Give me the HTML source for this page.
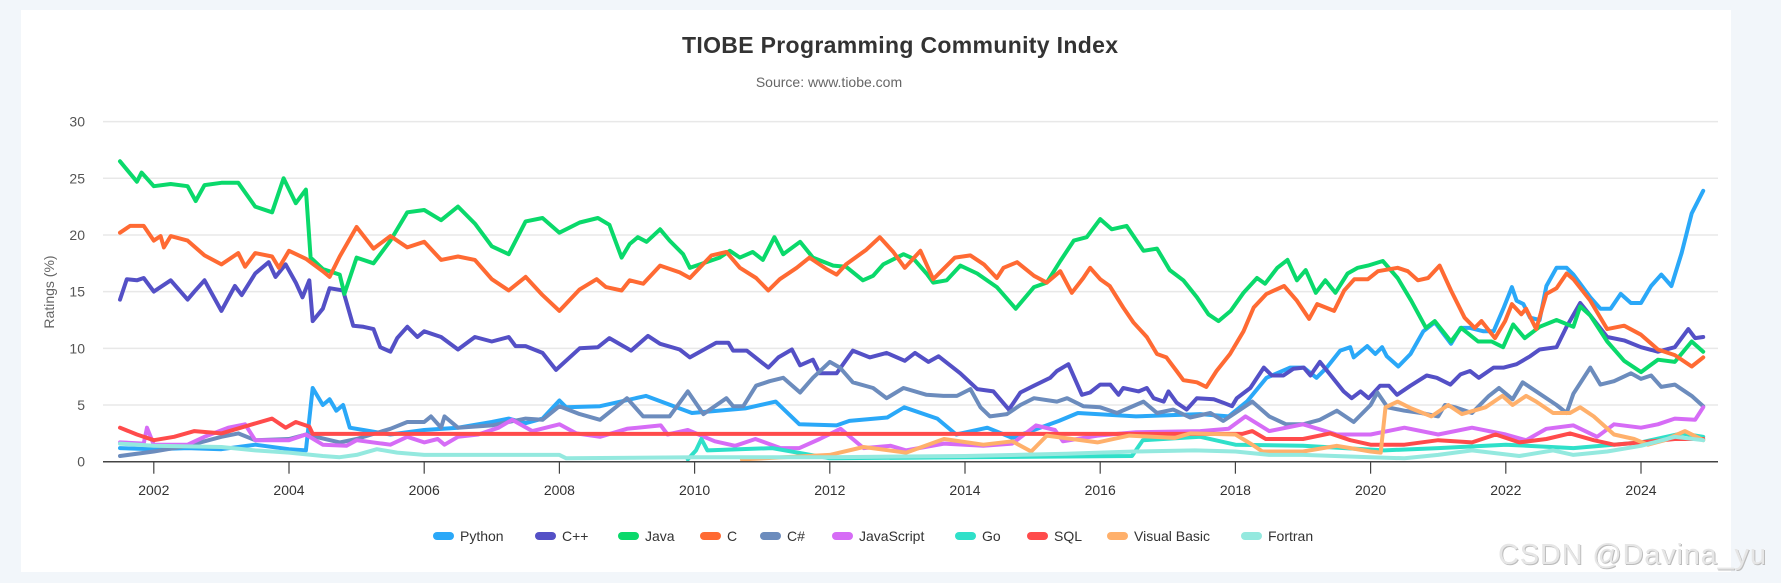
<!DOCTYPE html>
<html><head><meta charset="utf-8"><style>
html,body{margin:0;padding:0;background:#f2f6fa;}
svg{display:block;font-family:"Liberation Sans",sans-serif;}
</style></head><body>
<svg id="chart" width="1781" height="583" viewBox="0 0 1781 583">
<rect x="0" y="0" width="1781" height="583" fill="#f2f6fa"/>
<rect x="21" y="10" width="1710" height="562" fill="#ffffff"/>
<text x="900" y="53" text-anchor="middle" font-size="23" font-weight="bold" fill="#333" textLength="436">TIOBE Programming Community Index</text>
<text x="829" y="87" text-anchor="middle" font-size="14" fill="#666">Source: www.tiobe.com</text>
<text transform="translate(54,292) rotate(-90)" text-anchor="middle" font-size="14" fill="#666">Ratings (%)</text>
<g id="grid"></g><g id="series"></g><g id="axis"></g><g id="legend"></g>
<text x="1499" y="565" font-size="29" fill="#bdbdbd" textLength="268">CSDN @Davina_yu</text>
<text x="1498" y="564" font-size="29" fill="#e6e6e6" textLength="268">CSDN @Davina_yu</text>
</svg>
<script>
const yTicks=[0,5,10,15,20,25,30];
const xTicks=[2002,2004,2006,2008,2010,2012,2014,2016,2018,2020,2022,2024];
const seriesNames=["Python","C++","Java","C","C#","JavaScript","Go","SQL","Visual Basic","Fortran"];
const seriesColors=["#2aa8f8","#5450c6","#0ad96b","#ff6a33","#6c8cbd","#d66cf6","#2fe0c9","#ff4b4b","#ffb06b","#94e9df"];
const pythonData=[[2001.5,1.2],[2002,1.1],[2002.5,1.2],[2003,1.1],[2003.5,1.5],[2004,1.1],[2004.25,1.0],[2004.35,6.5],[2004.5,5.0],[2004.6,5.5],[2004.7,4.5],[2004.8,5.0],[2004.9,3.0],[2005.1,2.8],[2005.5,2.4],[2006,2.8],[2006.5,3.0],[2007,3.5],[2007.25,3.8],[2007.5,3.4],[2007.75,3.8],[2008,5.4],[2008.1,4.8],[2008.6,4.9],[2009.28,5.8],[2009.96,4.3],[2010.75,4.7],[2011.2,5.3],[2011.55,3.3],[2012.1,3.2],[2012.29,3.6],[2012.85,3.9],[2013.1,4.8],[2013.59,3.8],[2013.87,2.4],[2014.33,3.0],[2014.7,2.1],[2015.39,3.6],[2015.67,4.3],[2016.53,4.0],[2017.48,4.2],[2017.9,4.0],[2018.17,5.3],[2018.46,7.4],[2018.81,8.3],[2019.01,8.3],[2019.2,7.4],[2019.35,8.3],[2019.55,9.8],[2019.7,10.1],[2019.75,9.2],[2019.95,10.2],[2020.07,9.5],[2020.17,10.1],[2020.24,9.3],[2020.41,8.4],[2020.59,9.5],[2020.78,11.5],[2020.95,12.3],[2021.19,10.4],[2021.33,11.8],[2021.47,11.8],[2021.67,11.5],[2021.82,11.5],[2021.97,13.6],[2022.09,15.4],[2022.16,14.2],[2022.26,13.9],[2022.36,12.7],[2022.5,12.5],[2022.6,15.5],[2022.75,17.1],[2022.9,17.1],[2023,16.5],[2023.25,14.5],[2023.4,13.5],[2023.55,13.5],[2023.7,14.8],[2023.85,14.0],[2024,14.0],[2024.15,15.5],[2024.3,16.5],[2024.45,15.5],[2024.6,18.4],[2024.75,21.9],[2024.92,23.9]];
const cppData=[[2001.5,14.3],[2001.6,16.1],[2001.75,16.0],[2001.85,16.2],[2002,15.0],[2002.25,16.0],[2002.5,14.3],[2002.6,15.0],[2002.75,16.0],[2003,13.3],[2003.2,15.5],[2003.3,14.7],[2003.5,16.6],[2003.7,17.6],[2003.8,16.3],[2003.95,17.4],[2004.1,15.8],[2004.2,14.5],[2004.3,16.0],[2004.35,12.4],[2004.5,13.5],[2004.6,15.3],[2004.8,15.1],[2004.95,12.0],[2005.1,11.9],[2005.25,11.7],[2005.35,10.1],[2005.5,9.7],[2005.6,10.9],[2005.75,11.9],[2005.9,11.0],[2006,11.5],[2006.25,11.0],[2006.5,9.9],[2006.75,11.0],[2007,10.6],[2007.25,11.0],[2007.35,10.2],[2007.5,10.2],[2007.75,9.6],[2007.95,8.1],[2008.3,10.0],[2008.57,10.1],[2008.74,10.9],[2009.06,9.8],[2009.31,11.1],[2009.49,10.4],[2009.78,9.9],[2009.93,9.2],[2010.32,10.5],[2010.5,10.5],[2010.57,9.8],[2010.77,9.8],[2011.09,8.3],[2011.24,9.2],[2011.44,9.9],[2011.56,8.5],[2011.75,9.0],[2011.85,7.8],[2012.1,7.8],[2012.34,9.8],[2012.59,9.2],[2012.84,9.6],[2013.11,8.9],[2013.26,9.6],[2013.46,8.8],[2013.61,9.3],[2013.93,7.8],[2014.18,6.4],[2014.42,6.2],[2014.65,4.6],[2014.82,6.1],[2015.02,6.7],[2015.26,7.4],[2015.36,8.0],[2015.53,8.6],[2015.73,5.9],[2015.85,6.1],[2016,6.8],[2016.15,6.8],[2016.27,5.9],[2016.34,6.5],[2016.57,6.2],[2016.69,6.5],[2016.79,5.6],[2016.94,5.3],[2017.01,6.2],[2017.13,5.2],[2017.28,4.6],[2017.43,5.6],[2017.68,5.5],[2017.82,5.2],[2017.95,4.9],[2018.02,5.6],[2018.22,6.5],[2018.42,8.3],[2018.54,7.6],[2018.71,7.6],[2018.86,8.2],[2019.01,8.3],[2019.11,7.6],[2019.25,8.8],[2019.4,7.7],[2019.6,6.2],[2019.72,5.6],[2019.85,6.2],[2019.97,5.6],[2020.14,6.7],[2020.27,6.7],[2020.39,5.9],[2020.59,6.7],[2020.83,7.6],[2020.98,7.4],[2021.18,6.8],[2021.33,7.7],[2021.47,8.0],[2021.6,7.4],[2021.82,8.3],[2021.97,8.3],[2022.16,8.6],[2022.36,9.3],[2022.5,9.9],[2022.75,10.1],[2022.9,11.9],[2023.1,14.0],[2023.25,12.9],[2023.5,11.0],[2023.75,10.7],[2024,10.1],[2024.25,9.7],[2024.5,10.1],[2024.7,11.7],[2024.8,10.9],[2024.92,11.0]];
const javaData=[[2001.5,26.5],[2001.75,24.7],[2001.82,25.5],[2002,24.3],[2002.25,24.5],[2002.5,24.3],[2002.62,23.0],[2002.75,24.4],[2003,24.6],[2003.25,24.6],[2003.5,22.5],[2003.75,22.0],[2003.92,25.0],[2004.1,22.8],[2004.25,24.0],[2004.32,18.0],[2004.5,17.0],[2004.75,16.5],[2004.82,14.8],[2005,18.0],[2005.25,17.5],[2005.5,19.5],[2005.75,22.0],[2006,22.2],[2006.25,21.3],[2006.5,22.5],[2006.75,21.0],[2007,19.0],[2007.25,18.3],[2007.5,21.2],[2007.75,21.5],[2008,20.2],[2008.3,21.1],[2008.57,21.5],[2008.74,20.9],[2008.92,18.0],[2009.04,19.2],[2009.16,19.8],[2009.29,19.4],[2009.49,20.5],[2009.63,19.5],[2009.83,18.3],[2009.93,17.1],[2010.08,17.4],[2010.37,18.0],[2010.52,18.6],[2010.67,18.0],[2010.86,18.5],[2011.01,17.8],[2011.18,19.8],[2011.31,18.3],[2011.56,19.4],[2011.75,18.0],[2012.05,17.3],[2012.24,17.2],[2012.49,16.0],[2012.64,16.4],[2012.79,17.4],[2013.09,18.3],[2013.24,17.9],[2013.43,16.6],[2013.53,15.8],[2013.73,16.0],[2013.93,17.3],[2014.18,16.6],[2014.47,15.4],[2014.75,13.5],[2015.02,15.4],[2015.21,15.8],[2015.41,17.7],[2015.61,19.5],[2015.8,19.8],[2016,21.4],[2016.17,20.5],[2016.39,20.8],[2016.64,18.6],[2016.84,18.8],[2017.03,16.9],[2017.23,16.0],[2017.43,14.5],[2017.6,13.0],[2017.75,12.4],[2017.93,13.3],[2018.12,14.9],[2018.32,16.2],[2018.44,15.7],[2018.62,17.1],[2018.77,17.8],[2018.91,16.0],[2019.04,16.9],[2019.19,14.9],[2019.33,16.0],[2019.48,14.9],[2019.66,16.6],[2019.81,17.1],[2019.96,17.3],[2020.18,17.7],[2020.4,16.2],[2020.6,14.2],[2020.82,11.8],[2020.95,12.4],[2021.19,10.6],[2021.34,11.8],[2021.59,10.6],[2021.79,10.6],[2021.96,10.1],[2022.11,12.1],[2022.28,10.9],[2022.5,11.9],[2022.75,12.5],[2023,11.9],[2023.1,13.7],[2023.25,12.9],[2023.5,10.6],[2023.75,8.9],[2024,7.9],[2024.25,9.0],[2024.5,8.8],[2024.75,10.6],[2024.92,9.7]];
const cData=[[2001.5,20.2],[2001.65,20.8],[2001.85,20.8],[2002,19.5],[2002.1,19.9],[2002.15,18.9],[2002.25,19.9],[2002.5,19.5],[2002.75,18.2],[2003,17.4],[2003.25,18.4],[2003.35,17.2],[2003.5,18.4],[2003.75,18.1],[2003.85,17.1],[2004,18.6],[2004.25,17.9],[2004.5,16.8],[2004.6,16.3],[2004.75,18.1],[2005,20.7],[2005.25,18.8],[2005.5,19.9],[2005.75,18.9],[2006,19.4],[2006.25,17.8],[2006.5,18.1],[2006.75,17.8],[2007,16.1],[2007.25,15.1],[2007.5,16.3],[2007.75,14.7],[2008,13.3],[2008.3,15.2],[2008.55,16.1],[2008.69,15.4],[2008.92,15.1],[2009.04,16.0],[2009.24,15.7],[2009.49,17.3],[2009.78,16.7],[2009.93,16.2],[2010.25,18.2],[2010.47,18.5],[2010.67,17.1],[2010.91,16.2],[2011.09,15.1],[2011.26,16.1],[2011.51,17.1],[2011.7,18.0],[2011.95,17.0],[2012.1,16.5],[2012.24,17.4],[2012.54,18.7],[2012.74,19.8],[2012.94,18.5],[2013.11,17.1],[2013.34,18.6],[2013.53,16.1],[2013.85,18.0],[2014.08,18.2],[2014.28,17.4],[2014.47,16.2],[2014.57,17.1],[2014.77,17.6],[2015.02,16.4],[2015.21,15.8],[2015.41,16.8],[2015.58,14.9],[2015.75,16.2],[2015.85,17.1],[2016,16.1],[2016.14,15.5],[2016.34,13.6],[2016.49,12.3],[2016.69,11.0],[2016.84,9.5],[2016.98,9.2],[2017.13,8.0],[2017.23,7.2],[2017.43,7.0],[2017.57,6.6],[2017.72,8.0],[2017.92,9.5],[2018.12,11.5],[2018.27,13.6],[2018.46,14.8],[2018.72,15.5],[2018.91,14.2],[2019.09,12.6],[2019.21,13.9],[2019.46,13.3],[2019.61,15.1],[2019.76,16.1],[2019.96,16.1],[2020.11,16.8],[2020.4,17.1],[2020.55,16.8],[2020.7,16.0],[2020.85,16.2],[2021.02,17.3],[2021.19,15.1],[2021.39,12.7],[2021.54,11.8],[2021.64,12.4],[2021.84,10.9],[2021.99,12.4],[2022.09,13.9],[2022.23,13.0],[2022.3,13.5],[2022.45,11.7],[2022.6,14.8],[2022.75,15.3],[2022.9,16.6],[2023,16.1],[2023.25,14.2],[2023.5,11.7],[2023.75,12.0],[2024,11.2],[2024.25,9.9],[2024.5,9.4],[2024.75,8.4],[2024.92,9.2]];
const csharpData=[[2001.5,0.5],[2002,0.9],[2002.5,1.4],[2003,2.2],[2003.25,2.5],[2003.5,1.9],[2004,2.0],[2004.25,2.4],[2004.75,1.7],[2005,2.0],[2005.5,2.9],[2005.75,3.5],[2006,3.5],[2006.1,4.0],[2006.25,3.0],[2006.3,4.0],[2006.5,3.0],[2007,3.2],[2007.5,3.8],[2007.75,3.7],[2008,4.9],[2008.3,4.2],[2008.6,3.7],[2009,5.6],[2009.24,4.0],[2009.63,4.0],[2009.9,6.2],[2010.13,4.2],[2010.47,5.6],[2010.57,4.9],[2010.72,4.9],[2010.91,6.7],[2011.11,7.1],[2011.31,7.4],[2011.56,6.1],[2011.75,7.4],[2012,8.8],[2012.15,8.3],[2012.34,7.0],[2012.64,6.5],[2012.84,5.6],[2013.09,6.5],[2013.43,5.9],[2013.68,5.8],[2013.88,5.8],[2014.08,6.4],[2014.23,4.8],[2014.37,4.0],[2014.62,4.2],[2014.82,5.0],[2015.02,5.6],[2015.36,5.3],[2015.51,5.6],[2015.75,4.9],[2016,4.8],[2016.25,4.3],[2016.64,5.3],[2016.84,4.3],[2017.08,4.6],[2017.33,3.9],[2017.63,4.3],[2017.82,3.6],[2018.25,5.3],[2018.5,4.0],[2018.75,3.3],[2019,3.3],[2019.25,3.7],[2019.5,4.5],[2019.75,3.5],[2020,5.0],[2020.1,6.1],[2020.25,4.8],[2020.5,4.5],[2020.75,4.3],[2021,4.0],[2021.1,5.0],[2021.25,4.8],[2021.5,4.3],[2021.75,5.8],[2021.9,6.5],[2022.1,5.5],[2022.25,7.0],[2022.5,6.0],[2022.75,5.0],[2022.9,4.3],[2023,6.0],[2023.25,8.3],[2023.4,6.8],[2023.6,7.1],[2023.85,7.8],[2024,7.3],[2024.15,7.6],[2024.3,6.6],[2024.5,6.8],[2024.75,5.8],[2024.92,4.9]];
const jsData=[[2001.5,1.7],[2001.85,1.6],[2001.9,3.0],[2002,1.5],[2002.5,1.5],[2002.75,2.2],[2003.1,3.0],[2003.35,3.3],[2003.5,1.9],[2004,1.9],[2004.25,2.4],[2004.5,1.5],[2004.85,1.4],[2005,1.9],[2005.5,1.5],[2005.75,2.2],[2006,1.7],[2006.2,2.0],[2006.3,1.5],[2006.5,2.2],[2006.8,2.4],[2007.1,3.0],[2007.3,3.7],[2007.6,2.7],[2008,3.3],[2008.25,2.5],[2008.6,2.2],[2009,2.9],[2009.5,3.2],[2009.6,2.4],[2009.9,2.8],[2010.3,1.8],[2010.6,1.4],[2010.9,2.0],[2011.27,1.2],[2011.55,1.2],[2011.85,2.0],[2012.16,2.9],[2012.5,1.2],[2012.9,1.4],[2013.13,1.0],[2013.69,1.6],[2014.27,1.4],[2014.7,1.6],[2015.05,3.2],[2015.33,2.8],[2015.45,1.8],[2015.96,2.3],[2016.53,2.6],[2017.48,2.7],[2017.9,2.9],[2018.15,4.0],[2018.5,2.7],[2019,3.3],[2019.5,2.4],[2020,2.4],[2020.5,3.0],[2021,2.4],[2021.5,3.0],[2022,2.4],[2022.3,1.9],[2022.6,2.9],[2023,3.2],[2023.35,2.2],[2023.6,3.3],[2024,3.0],[2024.25,3.3],[2024.5,3.8],[2024.8,3.7],[2024.92,4.8]];
const goData=[[2009.9,0.2],[2010.02,1.0],[2010.1,2.0],[2010.19,1.0],[2011.15,1.2],[2012,0.3],[2014,0.4],[2016.47,0.5],[2016.63,1.9],[2017.48,2.2],[2018,1.5],[2019,1.4],[2020.2,1.0],[2021,1.2],[2022,1.5],[2023,1.2],[2024,1.7],[2024.6,2.5],[2024.92,2.2]];
const sqlData=[[2001.5,3.0],[2001.75,2.4],[2002,1.9],[2002.3,2.2],[2002.6,2.7],[2003,2.5],[2003.4,3.2],[2003.75,3.8],[2003.95,3.0],[2004.1,3.5],[2004.3,3.1],[2004.35,2.45],[2018.1,2.45],[2018.25,2.7],[2018.45,2.0],[2019,2.0],[2019.4,2.5],[2019.7,1.9],[2020,1.5],[2020.5,1.5],[2021,1.9],[2021.5,1.7],[2021.85,2.4],[2022.2,1.7],[2022.6,2.0],[2022.95,2.5],[2023.3,1.9],[2023.6,1.5],[2024,1.7],[2024.5,2.0],[2024.92,2.0]];
const vbData=[[2010.7,0.2],[2012,0.6],[2012.5,1.3],[2013.13,0.8],[2013.69,2.0],[2014.27,1.5],[2014.7,1.8],[2014.98,0.9],[2015.21,2.3],[2015.96,1.7],[2016.43,2.3],[2017.1,2.1],[2017.33,2.5],[2018,2.4],[2018.25,1.5],[2018.4,0.9],[2019,0.9],[2019.5,1.4],[2020,0.9],[2020.15,0.8],[2020.22,4.8],[2020.4,5.3],[2020.6,4.7],[2020.9,4.0],[2021.15,5.0],[2021.35,4.2],[2021.7,4.8],[2021.95,5.8],[2022.1,5.0],[2022.3,5.8],[2022.45,5.3],[2022.7,4.3],[2022.95,4.3],[2023.1,4.8],[2023.3,4.0],[2023.6,2.4],[2023.9,2.0],[2024.1,1.5],[2024.35,1.9],[2024.65,2.7],[2024.92,1.9]];
const fortranData=[[2001.5,1.6],[2002,1.4],[2003,1.3],[2003.5,1.0],[2004,0.8],[2004.5,0.5],[2004.75,0.4],[2005,0.6],[2005.3,1.1],[2005.6,0.8],[2006,0.6],[2007,0.6],[2008,0.6],[2008.1,0.3],[2010,0.4],[2012,0.4],[2014,0.5],[2015.5,0.7],[2016.5,0.9],[2017.4,1.0],[2018,0.9],[2018.5,0.6],[2019,0.6],[2020,0.4],[2020.5,0.3],[2021,0.6],[2021.5,1.0],[2022.2,0.5],[2022.7,1.0],[2023,0.6],[2023.5,0.9],[2024,1.4],[2024.5,2.2],[2024.92,1.9]];
const allData=[pythonData,cppData,javaData,cData,csharpData,jsData,goData,sqlData,vbData,fortranData];
const legendX=[433,535,618,700,760,832,955,1027,1107,1241];

const NS="http://www.w3.org/2000/svg";
const X0=103,X1=1718,Y0=461.7,YTOP=121.6;
function xs(yr){return 153.8+(yr-2002)*67.6;}
function ys(v){return Y0-(v/30)*(Y0-YTOP);}
function mk(tag,attrs,parent){const e=document.createElementNS(NS,tag);for(const k in attrs)e.setAttribute(k,attrs[k]);parent.appendChild(e);return e;}
const grid=document.getElementById('grid'),axis=document.getElementById('axis'),ser=document.getElementById('series'),leg=document.getElementById('legend');
yTicks.forEach(v=>{
  if(v>0){const l=mk('line',{x1:X0,x2:X1,y1:ys(v),y2:ys(v),stroke:'#e8e8e8','stroke-width':1.5},grid);
  
  }
  const t=mk('text',{x:85,y:ys(v)+5,'text-anchor':'end','font-size':14,fill:'#555'},axis);t.textContent=v;
  
  
});
const al=mk('line',{x1:X0,x2:X1,y1:Y0,y2:Y0,stroke:'#444','stroke-width':1.5},axis);


xTicks.forEach(yr=>{
  const tk=mk('line',{x1:xs(yr),x2:xs(yr),y1:Y0,y2:Y0+12,stroke:'#444','stroke-width':1.2},axis);
  
  
  const t=mk('text',{x:xs(yr),y:495,'text-anchor':'middle','font-size':14,fill:'#333'},axis);t.textContent=yr;
  
  
});
allData.forEach((d,i)=>{
  const p=d.map((pt,j)=>(j?'L':'M')+xs(pt[0]).toFixed(1)+','+ys(pt[1]).toFixed(1)).join('');
  const path=mk('path',{d:p,fill:'none',stroke:seriesColors[i],'stroke-width':4,'stroke-linejoin':'round','stroke-linecap':'round'},ser);
  
  
  const g=mk('g',{},leg);
  
  
  mk('rect',{x:legendX[i],y:532,width:21,height:8,rx:4,fill:seriesColors[i]},g);
  const t=mk('text',{x:legendX[i]+27,y:541,'font-size':14,fill:'#333'},g);t.textContent=seriesNames[i];
});
</script>
</body></html>
